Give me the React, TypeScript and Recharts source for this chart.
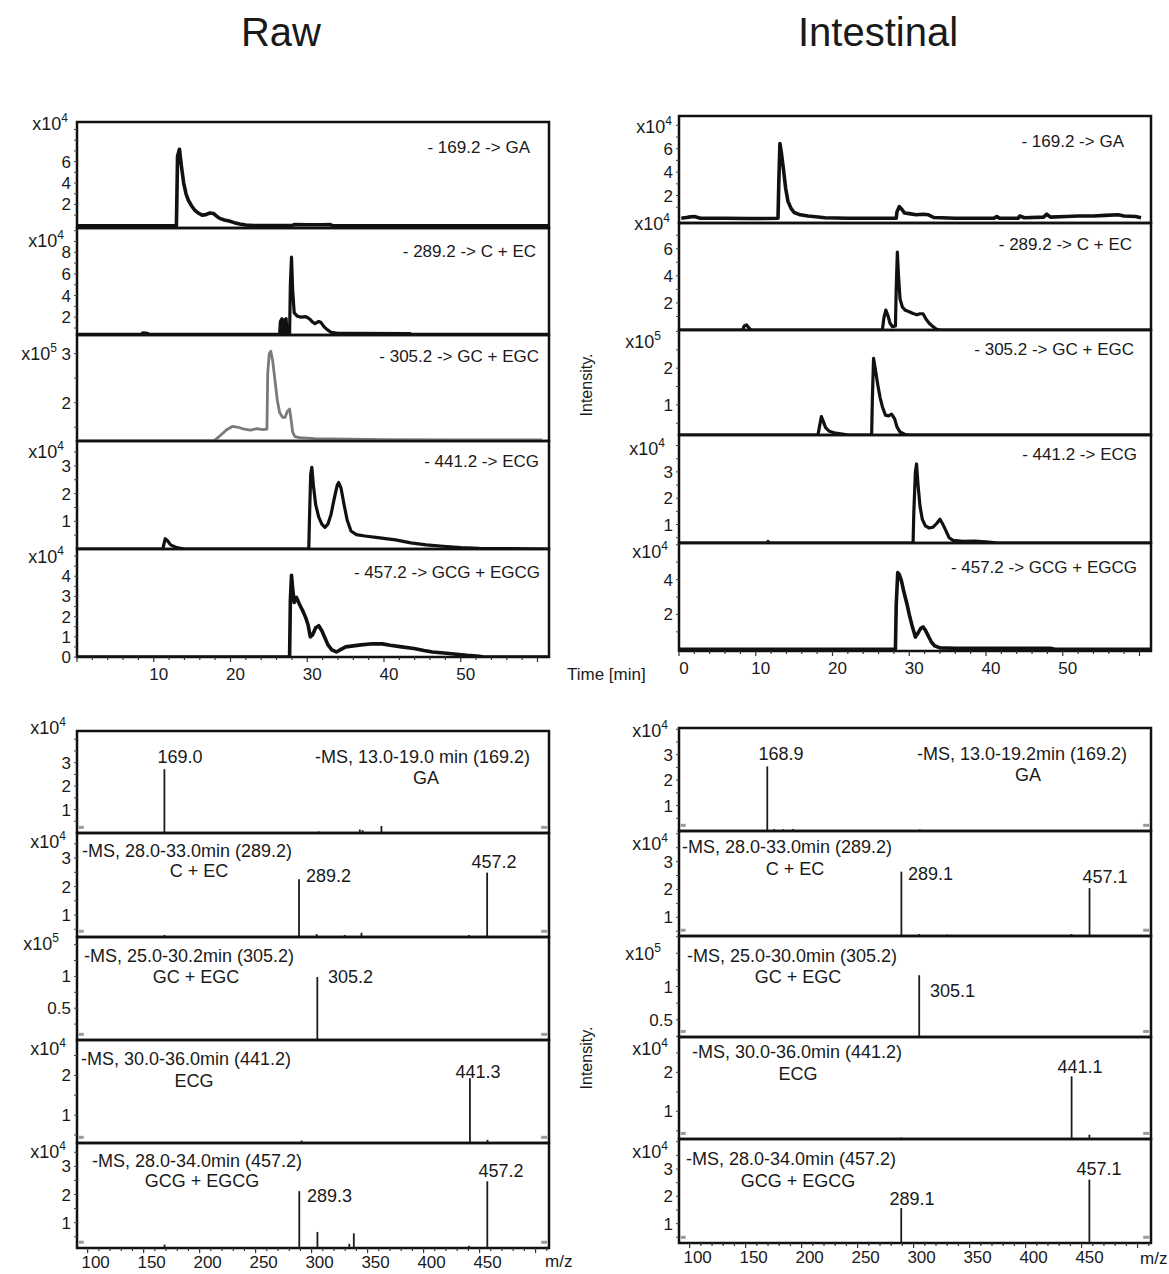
import React from 'react';
import { ComposedChart, Line, Bar, XAxis, YAxis, ReferenceArea, ReferenceLine } from 'recharts';

const FONT = '"Liberation Sans", Arial, Helvetica, sans-serif';
const INK = '#111';
const TXT = '#1a1a1a';

type Pair = [number, number];

// ---------- axes ----------
const TIME_DOMAIN: [number, number] = [0, 61.5];
const TIME_TICKS = [0, 2, 4, 6, 8, 10, 12, 14, 16, 18, 20, 22, 24, 26, 28, 30, 32, 34, 36, 38, 40, 42, 44, 46, 48, 50, 52, 54, 56, 58, 60];
const RAW_TIME_LABELS = [10, 20, 30, 40, 50];
const INT_TIME_LABELS = [0, 10, 20, 30, 40, 50];

const MZ_DOMAIN: [number, number] = [90.5, 512];
const MZ_TICKS = [100, 110, 120, 130, 140, 150, 160, 170, 180, 190, 200, 210, 220, 230, 240, 250, 260, 270, 280, 290, 300, 310, 320, 330, 340, 350, 360, 370, 380, 390, 400, 410, 420, 430, 440, 450, 460, 470, 480, 490, 500, 510];
const MZ_LABELS = [100, 150, 200, 250, 300, 350, 400, 450];

// ---------- chromatogram traces (time min, intensity in panel units) ----------
const rawGA: Pair[] = [[0, 0], [12.95, 0], [13.0, 2.0], [13.1, 6.5], [13.35, 7.15], [13.6, 5.6], [13.9, 4.0], [14.2, 3.0], [14.5, 2.4], [14.9, 1.9], [15.3, 1.5], [15.8, 1.2], [16.3, 1.0], [16.8, 1.05], [17.3, 1.2], [17.8, 1.15], [18.2, 0.9], [18.6, 0.7], [19.2, 0.55], [19.8, 0.45], [20.5, 0.3], [21.2, 0.18], [22, 0.08], [23, 0.03], [28, 0.03], [28.3, 0.12], [30, 0.1], [32, 0.1], [33, 0.12], [33.3, 0.02], [61.5, 0]];
const rawCEC: Pair[] = [[0, 0.4], [8.3, 0.4], [8.6, 0.55], [9.2, 0.5], [9.5, 0.4], [26.4, 0.4], [26.5, 1.6], [26.7, 1.85], [26.8, 0.5], [27.0, 0.5], [27.1, 1.8], [27.25, 1.85], [27.35, 0.5], [27.7, 0.5], [27.8, 5.0], [27.95, 7.55], [28.1, 4.5], [28.3, 2.4], [28.7, 2.1], [29.2, 2.0], [29.8, 2.05], [30.3, 1.85], [30.7, 1.55], [31.0, 1.4], [31.5, 1.6], [31.8, 1.5], [32.2, 1.1], [32.6, 0.85], [33.1, 0.6], [34, 0.5], [36, 0.5], [43.4, 0.48], [43.6, 0.4], [61.5, 0.4]];
const rawGC: Pair[] = [[0, 1.22], [17.8, 1.22], [18.6, 1.32], [19.5, 1.45], [20.3, 1.52], [21.0, 1.5], [21.8, 1.46], [22.6, 1.44], [23.4, 1.47], [24.2, 1.45], [24.75, 1.46], [24.85, 2.6], [25.05, 3.0], [25.25, 3.05], [25.5, 2.85], [25.8, 2.45], [26.1, 2.05], [26.4, 1.8], [26.8, 1.7], [27.1, 1.7], [27.4, 1.82], [27.7, 1.87], [27.9, 1.65], [28.1, 1.4], [28.4, 1.31], [29, 1.29], [31, 1.27], [40, 1.25], [50, 1.24], [60.6, 1.24]];
const rawECG: Pair[] = [[0, 0], [11.2, 0], [11.3, 0.15], [11.5, 0.37], [11.8, 0.3], [12.2, 0.15], [13, 0.05], [14, 0], [30.2, 0], [30.3, 1.2], [30.45, 2.7], [30.6, 2.95], [30.8, 2.3], [31.1, 1.6], [31.5, 1.15], [31.9, 0.9], [32.3, 0.78], [32.7, 0.9], [33.1, 1.25], [33.5, 1.8], [33.9, 2.3], [34.1, 2.4], [34.4, 2.2], [34.8, 1.6], [35.2, 1.05], [35.7, 0.65], [36.4, 0.52], [37.5, 0.47], [39.2, 0.41], [41.5, 0.33], [43.5, 0.22], [45.5, 0.15], [47.7, 0.1], [50, 0.05], [52.4, 0.02], [61.5, 0]];
const rawEGCG: Pair[] = [[0, 0], [27.7, 0], [27.8, 2.8], [27.95, 4.05], [28.1, 3.4], [28.3, 2.7], [28.6, 2.95], [29.0, 2.6], [29.4, 2.3], [29.8, 1.95], [30.1, 1.6], [30.4, 1.0], [30.7, 1.1], [31.1, 1.45], [31.5, 1.55], [31.9, 1.3], [32.3, 0.95], [32.7, 0.6], [33.2, 0.35], [33.8, 0.25], [34.4, 0.38], [35.0, 0.5], [36.0, 0.55], [37.0, 0.6], [38.5, 0.66], [39.8, 0.65], [40.8, 0.58], [42.3, 0.5], [43.9, 0.42], [45.2, 0.32], [46.3, 0.25], [47.8, 0.2], [49.1, 0.15], [50.8, 0.08], [52.4, 0.03], [53, 0], [61.5, 0]];

const intGA: Pair[] = [[0.3, 0.05], [1.2, 0.15], [2.0, 0.2], [2.8, 0.05], [6, 0.05], [9, 0.03], [12.9, 0.05], [13.0, 3.0], [13.15, 6.45], [13.35, 5.6], [13.6, 4.3], [13.9, 2.6], [14.2, 1.5], [14.6, 0.9], [15.0, 0.55], [15.8, 0.35], [16.8, 0.25], [17.8, 0.18], [19, 0.1], [22, 0.05], [25, 0.05], [28.3, 0.05], [28.4, 0.6], [28.7, 1.05], [29.0, 0.85], [29.4, 0.5], [30, 0.45], [30.9, 0.35], [31.8, 0.4], [32.5, 0.35], [33.2, 0.12], [36, 0.05], [41.0, 0.05], [41.4, 0.2], [41.8, 0.05], [44.2, 0.05], [44.4, 0.25], [45, 0.1], [47.5, 0.15], [47.9, 0.4], [48.4, 0.15], [50.5, 0.2], [52, 0.25], [54, 0.25], [55.5, 0.3], [57.2, 0.35], [58, 0.25], [59.5, 0.2], [60.2, 0.1]];
const intCEC: Pair[] = [[0, 0], [8.3, 0], [8.5, 0.3], [8.8, 0.37], [9.2, 0.1], [9.4, 0], [26.5, 0], [26.7, 0.9], [26.95, 1.47], [27.2, 1.1], [27.5, 0.5], [27.8, 0.25], [28.2, 0.3], [28.3, 3.0], [28.45, 5.75], [28.6, 4.0], [28.8, 2.3], [29.1, 1.7], [29.5, 1.45], [30.0, 1.35], [30.5, 1.22], [31.0, 1.12], [31.4, 1.2], [31.8, 1.2], [32.2, 0.8], [32.6, 0.5], [33.0, 0.3], [33.5, 0.08], [34, 0], [61.5, 0]];
const intGC: Pair[] = [[0, 0.18], [18.1, 0.18], [18.3, 0.4], [18.55, 0.68], [18.8, 0.55], [19.1, 0.38], [19.6, 0.28], [20.4, 0.23], [21.5, 0.2], [22, 0.18], [25.1, 0.18], [25.2, 1.2], [25.35, 2.27], [25.6, 1.95], [25.9, 1.55], [26.2, 1.2], [26.5, 0.95], [26.9, 0.72], [27.3, 0.7], [27.7, 0.75], [28.1, 0.62], [28.4, 0.4], [28.8, 0.26], [29.4, 0.2], [30, 0.18], [61.5, 0.18]];
const intECG: Pair[] = [[0, 0.3], [11.5, 0.3], [11.6, 0.36], [11.8, 0.3], [30.5, 0.3], [30.6, 1.5], [30.8, 3.0], [30.95, 3.3], [31.15, 2.5], [31.4, 1.7], [31.7, 1.2], [32.1, 0.95], [32.6, 0.87], [33.1, 0.9], [33.6, 1.05], [34.0, 1.2], [34.4, 1.0], [34.8, 0.75], [35.2, 0.5], [35.7, 0.4], [37, 0.36], [38.5, 0.37], [40, 0.34], [41, 0.32], [41.5, 0.3], [61.5, 0.3]];
const intEGCG: Pair[] = [[0, 0], [28.2, 0], [28.3, 2.5], [28.5, 4.4], [28.7, 4.3], [29.0, 3.9], [29.3, 3.3], [29.7, 2.6], [30.0, 2.0], [30.4, 1.3], [30.8, 0.7], [31.1, 0.9], [31.5, 1.2], [31.8, 1.28], [32.1, 1.1], [32.5, 0.75], [32.9, 0.4], [33.3, 0.2], [34, 0.08], [36, 0.06], [40, 0.05], [44, 0.06], [48.5, 0.05], [49, 0], [61.5, 0]];

// ---------- mass spectra peaks (m/z, intensity in panel units) ----------
const rawGAms: Pair[] = [[169.0, 2.72], [307, 0.06], [343.5, 0.15], [346, 0.12], [362.8, 0.3]];
const rawCECms: Pair[] = [[169, 0.3], [289.2, 2.26], [305, 0.33], [330, 0.3], [345, 0.38], [441, 0.3], [457.2, 2.49]];
const rawGCms: Pair[] = [[305.2, 0.99]];
const rawECGms: Pair[] = [[291, 0.36], [441.3, 1.93], [457, 0.38]];
const rawEGCGms: Pair[] = [[169, 0.22], [289.3, 2.12], [305.5, 0.67], [334, 0.25], [338, 0.62], [441, 0.18], [457.2, 2.47]];

const intGAms: Pair[] = [[168.9, 2.54], [175, 0.08], [183, 0.07], [192, 0.08], [305, 0.06]];
const intCECms: Pair[] = [[289.1, 2.64], [305, 0.4], [330, 0.38], [441, 0.4], [457.1, 2.05]];
const intGCms: Pair[] = [[305.1, 1.17]];
const intECGms: Pair[] = [[289, 0.33], [441.1, 1.9], [457, 0.4]];
const intEGCGms: Pair[] = [[289.1, 1.57], [457.1, 2.61]];

// ---------- y-axis tick values per panel ----------
const rawChromY = [
  { d: [-0.2, 9.7], major: [2, 4, 6], minor: [1, 3, 5, 7, 8, 9] },
  { d: [0.35, 10.25], major: [2, 4, 6, 8], minor: [1, 3, 5, 7, 9, 10] },
  { d: [1.22, 3.38], major: [2, 3], minor: [1.5, 2.5] },
  { d: [0, 3.9], major: [1, 2, 3], minor: [0.5, 1.5, 2.5, 3.5] },
  { d: [0, 5.35], major: [0, 1, 2, 3, 4], minor: [0.5, 1.5, 2.5, 3.5, 4.5, 5] },
];
const intChromY = [
  { d: [-0.35, 8.8], major: [2, 4, 6], minor: [1, 3, 5, 7, 8] },
  { d: [0, 7.9], major: [2, 4, 6], minor: [1, 3, 5, 7] },
  { d: [0.18, 3.04], major: [1, 2], minor: [0.5, 1.5, 2.5, 3] },
  { d: [0.3, 4.4], major: [1, 2, 3], minor: [0.5, 1.5, 2.5, 3.5, 4] },
  { d: [-0.1, 6.1], major: [2, 4], minor: [1, 3, 5, 6] },
];
const rawMsY = [
  { d: [0, 4.35], major: [1, 2, 3], minor: [0.5, 1.5, 2.5, 3.5, 4] },
  { d: [0.23, 3.88], major: [1, 2, 3], minor: [0.5, 1.5, 2.5, 3.5] },
  { d: [0, 1.62], major: [0.5, 1], minor: [0.25, 0.75, 1.25, 1.5] },
  { d: [0.3, 2.89], major: [1, 2], minor: [0.5, 1.5, 2.5] },
  { d: [0.1, 3.83], major: [1, 2, 3], minor: [0.5, 1.5, 2.5, 3.5] },
];
const intMsY = [
  { d: [0, 4.05], major: [1, 2, 3], minor: [0.5, 1.5, 2.5, 3.5, 4] },
  { d: [0.33, 4.1], major: [1, 2, 3], minor: [0.5, 1.5, 2.5, 3.5, 4] },
  { d: [0.24, 1.76], major: [0.5, 1], minor: [0.25, 0.75, 1.25, 1.5, 1.75] },
  { d: [0.29, 2.91], major: [1, 2], minor: [0.5, 1.5, 2.5] },
  { d: [0.29, 4.1], major: [1, 2, 3], minor: [0.5, 1.5, 2.5, 3.5, 4] },
];

// ---------- layout (pixels) ----------
const RAW_X = 77;
const INT_X = 679;
const PW = 472;
const RAW_CHROM_EDGES = [122, 228, 335, 441, 549, 657];
const INT_CHROM_EDGES = [116, 223, 330, 435, 543, 651];
const RAW_MS_EDGES = [731, 833, 937, 1040, 1143, 1248];
const INT_MS_EDGES = [728, 831, 936, 1037, 1139, 1243];

const YW = 70;
const MT = 4;
const MR = 6;
const MB = 4;
const XH = 40;

const makeXTick = (labels: number[], majorEvery: number, dx: number, dy: number) => (props: any) => {
  const { x, y, payload } = props;
  const v = payload.value;
  const isMajor = Math.abs(v % majorEvery) < 1e-6;
  return (
    <g>
      <line x1={x} x2={x} y1={y} y2={y + (isMajor ? 5 : 3)} stroke="#333" strokeWidth={1.2} />
      {labels.includes(v) && (
        <text x={x + dx} y={y + dy} textAnchor="middle" fontFamily={FONT} fontSize={17} fill={TXT}>
          {v}
        </text>
      )}
    </g>
  );
};

const makeYTick = (majors: number[]) => (props: any) => {
  const { x, y, payload } = props;
  const v = payload.value;
  const isMajor = majors.includes(v);
  return (
    <g>
      <line x1={x - 3} x2={x} y1={y} y2={y} stroke="#444" strokeWidth={1} />
      {isMajor && (
        <text x={x - 6} y={y + 6} textAnchor="end" fontFamily={FONT} fontSize={17} fill={TXT}>
          {v}
        </text>
      )}
    </g>
  );
};

function ChromPanel(props: {
  left: number; top: number; height: number; data: Pair[];
  y: { d: number[]; major: number[]; minor: number[] };
  labels?: number[]; color?: string; sw?: number;
}) {
  const { left, top, height, data, y, labels, color = INK, sw = 3.2 } = props;
  const showX = !!labels;
  const w = PW + YW + MR;
  const h = height + MT + (showX ? XH : MB);
  const rows = data.map(([t, v]) => ({ t, v }));
  const yd: [number, number] = [y.d[0], y.d[1]];
  return (
    <div style={{ position: 'absolute', left: left - YW, top: top - MT }}>
      <ComposedChart width={w} height={h} data={rows} margin={{ top: MT, right: MR, bottom: showX ? 0 : MB, left: 0 }}>
        <XAxis
          dataKey="t" type="number" domain={TIME_DOMAIN} allowDataOverflow hide={!showX}
          ticks={TIME_TICKS} interval={0} height={XH} axisLine={false} tickLine={false}
          tickSize={0} tickMargin={0} tick={showX ? makeXTick(labels as number[], 10, 5, 23) : false}
        />
        <YAxis
          type="number" domain={yd} allowDataOverflow width={YW}
          ticks={[...y.major, ...y.minor]} interval={0} axisLine={false} tickLine={false}
          tickSize={0} tickMargin={0} tick={makeYTick(y.major)}
        />
        <Line dataKey="v" type="linear" stroke={color} strokeWidth={sw} strokeLinejoin="round" dot={false} activeDot={false} isAnimationActive={false} />
        <ReferenceArea x1={TIME_DOMAIN[0]} x2={TIME_DOMAIN[1]} y1={yd[0]} y2={yd[1]} fill="none" fillOpacity={0} stroke={INK} strokeWidth={2.5} ifOverflow="visible" />
      </ComposedChart>
    </div>
  );
}

function MsPanel(props: {
  left: number; top: number; height: number; data: Pair[];
  y: { d: number[]; major: number[]; minor: number[] };
  showX?: boolean;
}) {
  const { left, top, height, data, y, showX } = props;
  const w = PW + YW + MR;
  const h = height + MT + (showX ? XH : MB);
  const rows = data.map(([mz, v]) => ({ mz, v }));
  const yd: [number, number] = [y.d[0], y.d[1]];
  const ym = yd[0] + 0.055 * (yd[1] - yd[0]);
  return (
    <div style={{ position: 'absolute', left: left - YW, top: top - MT }}>
      <ComposedChart width={w} height={h} data={rows} margin={{ top: MT, right: MR, bottom: showX ? 0 : MB, left: 0 }}>
        <XAxis
          dataKey="mz" type="number" domain={MZ_DOMAIN} allowDataOverflow hide={!showX}
          ticks={MZ_TICKS} interval={0} height={XH} axisLine={false} tickLine={false}
          tickSize={0} tickMargin={0} tick={showX ? makeXTick(MZ_LABELS, 50, 8, 20) : false}
        />
        <YAxis
          type="number" domain={yd} allowDataOverflow width={YW}
          ticks={[...y.major, ...y.minor]} interval={0} axisLine={false} tickLine={false}
          tickSize={0} tickMargin={0} tick={makeYTick(y.major)}
        />
        <Bar dataKey="v" barSize={1.8} fill="#1c1c1c" isAnimationActive={false} />
        <ReferenceLine segment={[{ x: MZ_DOMAIN[0] + 1.5, y: ym }, { x: MZ_DOMAIN[0] + 6, y: ym }]} stroke="#9a9a9a" strokeWidth={3} ifOverflow="visible" />
        <ReferenceLine segment={[{ x: MZ_DOMAIN[1] - 7, y: ym }, { x: MZ_DOMAIN[1] - 1.5, y: ym }]} stroke="#9a9a9a" strokeWidth={3} ifOverflow="visible" />
        <ReferenceArea x1={MZ_DOMAIN[0]} x2={MZ_DOMAIN[1]} y1={yd[0]} y2={yd[1]} fill="none" fillOpacity={0} stroke={INK} strokeWidth={2.5} ifOverflow="visible" />
      </ComposedChart>
    </div>
  );
}

function Exp({ x, y, p }: { x: number; y: number; p: number }) {
  return (
    <text x={x} y={y} textAnchor="end" fontFamily={FONT} fontSize={18} fill={TXT}>
      x10<tspan fontSize={12} dy={-8}>{p}</tspan>
    </text>
  );
}

function T({ x, y, a = 'start', s = 17, children }: { x: number; y: number; a?: string; s?: number; children: React.ReactNode }) {
  return (
    <text x={x} y={y} textAnchor={a as any} fontFamily={FONT} fontSize={s} fill={TXT}>
      {children}
    </text>
  );
}

const rawChromData = [rawGA, rawCEC, rawGC, rawECG, rawEGCG];
const intChromData = [intGA, intCEC, intGC, intECG, intEGCG];
const rawMsData = [rawGAms, rawCECms, rawGCms, rawECGms, rawEGCGms];
const intMsData = [intGAms, intCECms, intGCms, intECGms, intEGCGms];

export default function App() {
  return (
    <div style={{ position: 'absolute', left: 0, top: 0, width: 1169, height: 1274, background: '#fff', overflow: 'hidden' }}>
      {rawChromData.map((d, i) => (
        <ChromPanel key={'rc' + i} left={RAW_X} top={RAW_CHROM_EDGES[i]} height={RAW_CHROM_EDGES[i + 1] - RAW_CHROM_EDGES[i]}
          data={d} y={rawChromY[i]} labels={i === 4 ? RAW_TIME_LABELS : undefined}
          color={i === 2 ? '#7a7a7a' : INK} sw={i === 2 ? 2.8 : i === 0 || i === 4 ? 3.6 : 3.2} />
      ))}
      {intChromData.map((d, i) => (
        <ChromPanel key={'ic' + i} left={INT_X} top={INT_CHROM_EDGES[i]} height={INT_CHROM_EDGES[i + 1] - INT_CHROM_EDGES[i]}
          data={d} y={intChromY[i]} labels={i === 4 ? INT_TIME_LABELS : undefined}
          sw={i === 0 || i === 4 ? 3.6 : 3.2} />
      ))}
      {rawMsData.map((d, i) => (
        <MsPanel key={'rm' + i} left={RAW_X} top={RAW_MS_EDGES[i]} height={RAW_MS_EDGES[i + 1] - RAW_MS_EDGES[i]}
          data={d} y={rawMsY[i]} showX={i === 4} />
      ))}
      {intMsData.map((d, i) => (
        <MsPanel key={'im' + i} left={INT_X} top={INT_MS_EDGES[i]} height={INT_MS_EDGES[i + 1] - INT_MS_EDGES[i]}
          data={d} y={intMsY[i]} showX={i === 4} />
      ))}

      <svg width={1169} height={1274} style={{ position: 'absolute', left: 0, top: 0, pointerEvents: 'none' }}>
        <T x={281} y={46} a="middle" s={40}>Raw</T>
        <T x={878} y={46} a="middle" s={40}>Intestinal</T>

        {/* exponents: raw chromatograms */}
        <Exp x={68} y={130} p={4} />
        <Exp x={64} y={247} p={4} />
        <Exp x={57} y={360} p={5} />
        <Exp x={64} y={458} p={4} />
        <Exp x={64} y={563} p={4} />
        {/* intestinal chromatograms */}
        <Exp x={672} y={133} p={4} />
        <Exp x={670} y={230} p={4} />
        <Exp x={661} y={348} p={5} />
        <Exp x={665} y={455} p={4} />
        <Exp x={668} y={558} p={4} />
        {/* raw spectra */}
        <Exp x={66} y={734} p={4} />
        <Exp x={66} y={848} p={4} />
        <Exp x={59} y={950} p={5} />
        <Exp x={66} y={1055} p={4} />
        <Exp x={66} y={1158} p={4} />
        {/* intestinal spectra */}
        <Exp x={668} y={737} p={4} />
        <Exp x={668} y={850} p={4} />
        <Exp x={661} y={960} p={5} />
        <Exp x={668} y={1055} p={4} />
        <Exp x={668} y={1158} p={4} />

        {/* chromatogram transition labels */}
        <T x={530} y={153} a="end">- 169.2 -&gt; GA</T>
        <T x={536} y={257} a="end">- 289.2 -&gt; C + EC</T>
        <T x={539} y={362} a="end">- 305.2 -&gt; GC + EGC</T>
        <T x={539} y={467} a="end">- 441.2 -&gt; ECG</T>
        <T x={540} y={578} a="end">- 457.2 -&gt; GCG + EGCG</T>
        <T x={1124} y={147} a="end">- 169.2 -&gt; GA</T>
        <T x={1132} y={250} a="end">- 289.2 -&gt; C + EC</T>
        <T x={1134} y={355} a="end">- 305.2 -&gt; GC + EGC</T>
        <T x={1137} y={460} a="end">- 441.2 -&gt; ECG</T>
        <T x={1137} y={573} a="end">- 457.2 -&gt; GCG + EGCG</T>

        <T x={567} y={680}>Time [min]</T>
        <text x={592} y={385} transform="rotate(-90 592 385)" textAnchor="middle" fontFamily={FONT} fontSize={16} fill={TXT}>Intensity.</text>
        <text x={592} y={1058} transform="rotate(-90 592 1058)" textAnchor="middle" fontFamily={FONT} fontSize={16} fill={TXT}>Intensity.</text>

        {/* raw spectra annotations */}
        <T x={180} y={763} a="middle" s={18}>169.0</T>
        <T x={315} y={763} s={18}>-MS, 13.0-19.0 min (169.2)</T>
        <T x={426} y={784} a="middle" s={18}>GA</T>
        <T x={82} y={857} s={18}>-MS, 28.0-33.0min (289.2)</T>
        <T x={199} y={877} a="middle" s={18}>C + EC</T>
        <T x={306} y={882} s={18}>289.2</T>
        <T x={494} y={868} a="middle" s={18}>457.2</T>
        <T x={84} y={962} s={18}>-MS, 25.0-30.2min (305.2)</T>
        <T x={196} y={983} a="middle" s={18}>GC + EGC</T>
        <T x={328} y={983} s={18}>305.2</T>
        <T x={81} y={1065} s={18}>-MS, 30.0-36.0min (441.2)</T>
        <T x={194} y={1087} a="middle" s={18}>ECG</T>
        <T x={478} y={1078} a="middle" s={18}>441.3</T>
        <T x={92} y={1167} s={18}>-MS, 28.0-34.0min (457.2)</T>
        <T x={202} y={1187} a="middle" s={18}>GCG + EGCG</T>
        <T x={307} y={1202} s={18}>289.3</T>
        <T x={501} y={1177} a="middle" s={18}>457.2</T>
        <T x={545} y={1267} s={17}>m/z</T>

        {/* intestinal spectra annotations */}
        <T x={781} y={760} a="middle" s={18}>168.9</T>
        <T x={917} y={760} s={18}>-MS, 13.0-19.2min (169.2)</T>
        <T x={1028} y={781} a="middle" s={18}>GA</T>
        <T x={682} y={853} s={18}>-MS, 28.0-33.0min (289.2)</T>
        <T x={795} y={875} a="middle" s={18}>C + EC</T>
        <T x={908} y={880} s={18}>289.1</T>
        <T x={1105} y={883} a="middle" s={18}>457.1</T>
        <T x={687} y={962} s={18}>-MS, 25.0-30.0min (305.2)</T>
        <T x={798} y={983} a="middle" s={18}>GC + EGC</T>
        <T x={930} y={997} s={18}>305.1</T>
        <T x={692} y={1058} s={18}>-MS, 30.0-36.0min (441.2)</T>
        <T x={798} y={1080} a="middle" s={18}>ECG</T>
        <T x={1080} y={1073} a="middle" s={18}>441.1</T>
        <T x={686} y={1165} s={18}>-MS, 28.0-34.0min (457.2)</T>
        <T x={798} y={1187} a="middle" s={18}>GCG + EGCG</T>
        <T x={912} y={1205} a="middle" s={18}>289.1</T>
        <T x={1099} y={1175} a="middle" s={18}>457.1</T>
        <T x={1140} y={1264} s={17}>m/z</T>
      </svg>
    </div>
  );
}
